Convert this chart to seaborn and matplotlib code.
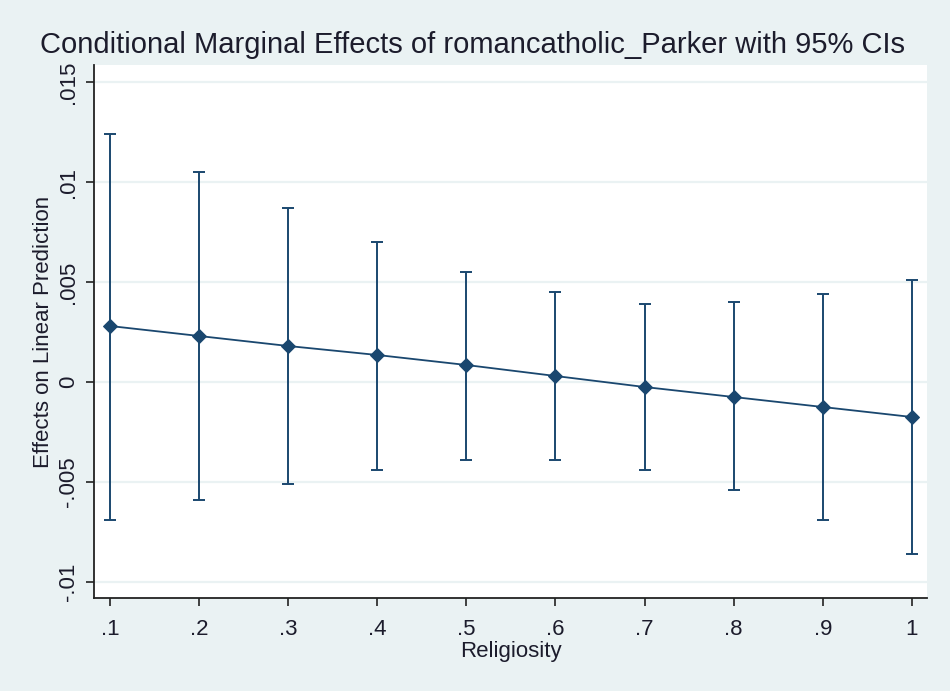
import matplotlib
matplotlib.use("Agg")
import matplotlib.pyplot as plt
import seaborn as sns
import pandas as pd
import numpy as np

religiosity = [0.1, 0.2, 0.3, 0.4, 0.5, 0.6, 0.7, 0.8, 0.9, 1.0]
effect = [0.0028, 0.0023, 0.0018, 0.00135, 0.00085, 0.0003, -0.00025, -0.00075, -0.00125, -0.00175]
ci_upper = [0.0124, 0.0105, 0.0087, 0.0070, 0.0055, 0.0045, 0.0039, 0.0040, 0.0044, 0.0051]
ci_lower = [-0.0069, -0.0059, -0.0051, -0.0044, -0.0039, -0.0039, -0.0044, -0.0054, -0.0069, -0.0086]
xticks = [0.1, 0.2, 0.3, 0.4, 0.5, 0.6, 0.7, 0.8, 0.9, 1.0]
xticklabels = [".1", ".2", ".3", ".4", ".5", ".6", ".7", ".8", ".9", "1"]
yticks = [-0.01, -0.005, 0.0, 0.005, 0.01, 0.015]
yticklabels = ["-.01", "-.005", "0", ".005", ".01", ".015"]

df = pd.DataFrame({"Religiosity": religiosity, "Effect": effect,
                   "lo": ci_lower, "hi": ci_upper})

sns.set_theme(style="white")
plt.rcParams['font.family'] = ['Liberation Sans', 'DejaVu Sans']

navy = "#1a476f"
bg = "#eaf2f3"
txt = "#1c1c2c"

fig = plt.figure(figsize=(9.5, 6.91), dpi=100)
fig.patch.set_facecolor(bg)
ax = fig.add_axes([94/950, 1-598/691, (927-94)/950, (598-65)/691])
ax.set_facecolor("white")

for y in yticks:
    ax.axhline(y, color=bg, lw=1.6, zorder=0)

ax.errorbar(df["Religiosity"], df["Effect"],
            yerr=[df["Effect"] - df["lo"], df["hi"] - df["Effect"]],
            fmt="none", ecolor=navy, elinewidth=1.4, capsize=4.5, capthick=1.4, zorder=2)
sns.lineplot(data=df, x="Religiosity", y="Effect", ax=ax, color=navy, lw=1.3,
             marker="D", markersize=7, markeredgecolor=navy, zorder=3)

ax.set_xlim(0.082, 1.017)
ax.set_ylim(-0.0108, 0.01585)
ax.set_xticks(xticks)
ax.set_xticklabels(xticklabels)
ax.set_yticks(yticks)
ax.set_yticklabels(yticklabels, rotation=90, va="center")

for s in ["top", "right"]:
    ax.spines[s].set_visible(False)
for s in ["left", "bottom"]:
    ax.spines[s].set_color("#222222")
    ax.spines[s].set_linewidth(1.3)

ax.tick_params(axis="both", direction="out", length=6, width=1.2, color="#222222",
               labelsize=16, labelcolor=txt, left=True, bottom=True, pad=5)
ax.tick_params(axis="x", pad=9)

ax.set_xlabel("Religiosity", fontsize=16, color=txt, labelpad=1)
ax.set_ylabel("Effects on Linear Prediction", fontsize=16, color=txt, labelpad=3)
fig.text(0.5 - 0.003, 1 - 45/691, "Conditional Marginal Effects of romancatholic_Parker with 95% CIs",
         ha="center", va="center", fontsize=21, color=txt)

fig.savefig("out.png", dpi=100, facecolor=bg)
